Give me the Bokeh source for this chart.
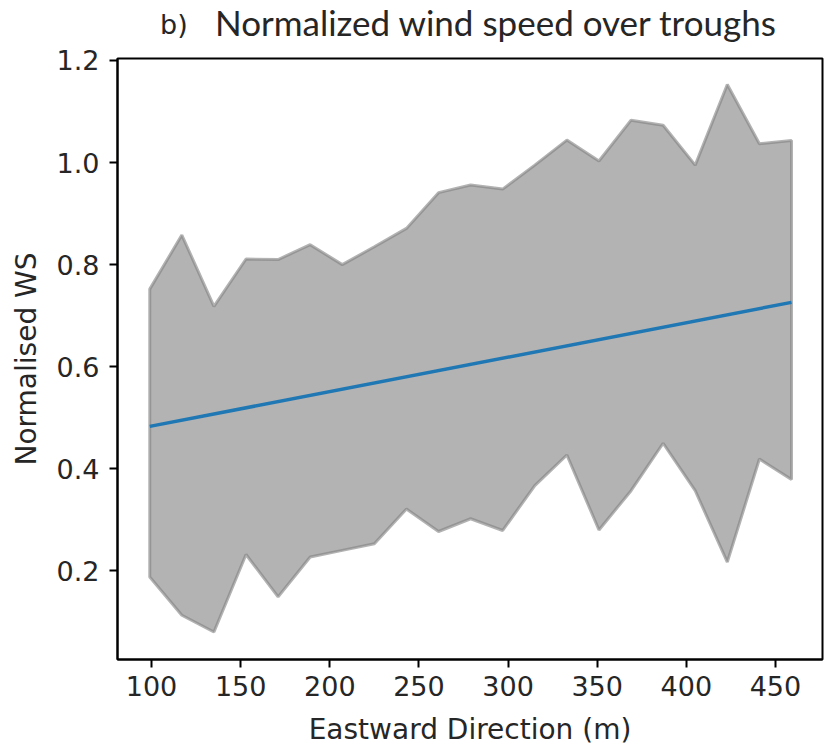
from bokeh.plotting import figure
from bokeh.models import Range1d, FixedTicker, CustomJSTickFormatter, Div
from bokeh.layouts import column
from bokeh.embed import file_html
from bokeh.resources import INLINE

# Data
east_m = [99, 117, 135, 153, 171, 189, 207, 225, 243, 261, 279,
          297, 315, 333, 351, 369, 387, 405, 423, 441, 459]
ws_upper = [0.752, 0.858, 0.718, 0.811, 0.810, 0.839, 0.800, 0.835, 0.871, 0.941, 0.956,
            0.948, 0.995, 1.044, 1.003, 1.083, 1.073, 0.995, 1.153, 1.037, 1.043]
ws_lower = [0.188, 0.113, 0.080, 0.232, 0.149, 0.227, 0.240, 0.253, 0.321, 0.277, 0.302,
            0.279, 0.367, 0.427, 0.280, 0.357, 0.450, 0.357, 0.217, 0.419, 0.379]
fit_x = [99, 459]
fit_y = [0.483, 0.726]
x_ticks = [100, 150, 200, 250, 300, 350, 400, 450]
y_ticks = [0.2, 0.4, 0.6, 0.8, 1.0, 1.2]
panel_tag = "b)"
title_text = "Normalized wind speed over troughs"

HEAD_H = 43

p = figure(width=825, height=748 - HEAD_H, output_backend="svg", toolbar_location=None,
           x_range=Range1d(80.9, 476.4), y_range=Range1d(0.0262, 1.2039),
           min_border_left=117, min_border_right=3, min_border_top=58 - HEAD_H,
           min_border_bottom=87)

p.xgrid.visible = False
p.ygrid.visible = False
p.outline_line_color = "black"
p.outline_line_width = 2
p.background_fill_color = "white"
p.border_fill_color = "white"

band_x = east_m + east_m[::-1]
band_y = ws_upper + ws_lower[::-1]
p.patch(band_x, band_y, fill_color="#808080", fill_alpha=0.6,
        line_color="#808080", line_alpha=0.6, line_width=3)
p.line(fit_x, fit_y, line_color="#1f77b4", line_width=3.5)

for ax in (p.xaxis[0], p.yaxis[0]):
    ax.axis_line_width = 2
    ax.axis_line_color = "black"
    ax.major_tick_line_width = 2
    ax.major_tick_line_color = "black"
    ax.major_tick_out = 8
    ax.major_tick_in = 0
    ax.minor_tick_out = 0
    ax.minor_tick_in = 0
    ax.major_label_text_font = "DejaVu Sans"
    ax.major_label_text_font_size = "27px"
    ax.major_label_text_color = "#262626"
    ax.axis_label_text_font = "DejaVu Sans"
    ax.axis_label_text_font_size = "28px"
    ax.axis_label_text_font_style = "normal"
    ax.axis_label_text_color = "#262626"

p.xaxis.ticker = FixedTicker(ticks=x_ticks)
p.yaxis.ticker = FixedTicker(ticks=y_ticks)
p.yaxis.formatter = CustomJSTickFormatter(code="return tick.toFixed(1);")
p.xaxis.axis_label = "Eastward Direction (m)"
p.yaxis.axis_label = "Normalised WS"
p.xaxis.major_label_standoff = 8
p.yaxis.major_label_standoff = 10
p.xaxis.axis_label_standoff = 14
p.yaxis.axis_label_standoff = 11

head_html = (
    '<div style="position:relative;width:825px;height:%dpx;margin:0;padding:0;">'
    '<span style="position:absolute;left:160px;top:11px;font-family:\'DejaVu Sans\';'
    'font-size:27px;line-height:28px;color:#262626;white-space:nowrap;">%s</span>'
    '<span style="position:absolute;left:215px;top:1px;font-family:Lato;'
    'font-size:35px;line-height:42px;color:#262626;white-space:nowrap;">%s</span>'
    '</div>' % (HEAD_H, panel_tag, title_text)
)
head = Div(text=head_html, width=825, height=HEAD_H, margin=(0, 0, 0, 0),
           styles={"margin": "0", "padding": "0"})

layout = column(head, p, spacing=0)

open("out.html", "w").write(file_html(layout, INLINE))
